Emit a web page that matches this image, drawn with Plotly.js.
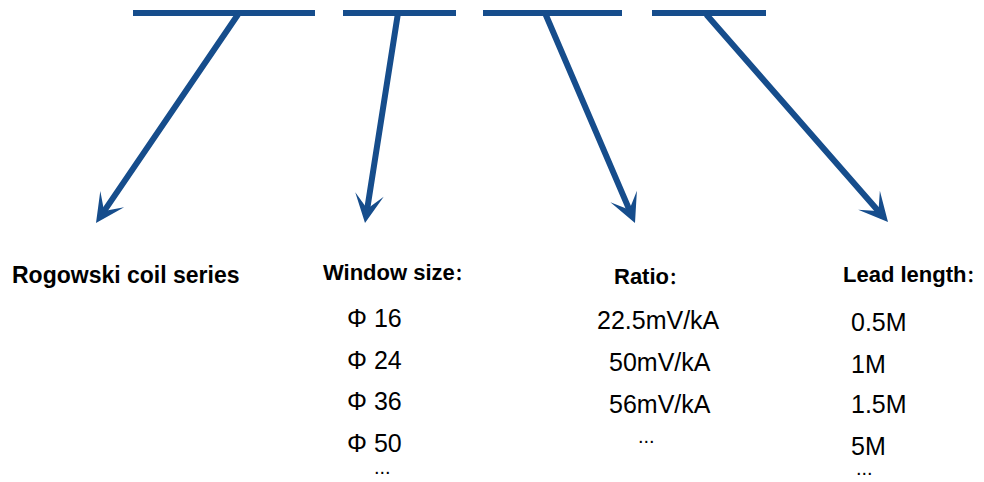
<!DOCTYPE html>
<html>
<head>
<meta charset="utf-8">
<script src="https://cdn.plot.ly/plotly-3.0.1.min.js"></script>
<style>html,body{margin:0;padding:0;background:#fff;}#chart{width:984px;height:482px;}</style>
</head>
<body>
<div id="chart"></div>
<script>
// ---- content ----
const headings = ["Rogowski coil series", "Window size：", "Ratio：", "Lead length："];
const windowSizes = ["Φ 16", "Φ 24", "Φ 36", "Φ 50", "..."];
const ratios = ["22.5mV/kA", "50mV/kA", "56mV/kA", "..."];
const leadLengths = ["0.5M", "1M", "1.5M", "5M", "..."];
const optionLists = [[], windowSizes, ratios, leadLengths];

// ---- layout geometry (pixel space) ----
const COLOR = "#164d8c";
const barY = 13;
const bars = [[133, 315], [343, 456], [483, 622], [652, 766]];
const arrowTail = [239, 398, 545, 705];
const arrowTip = [[96, 223], [365, 223], [635, 223], [888, 222]];
const headPos = [[10, 275], [321, 272], [612, 276], [841, 274]];
const headSize = [23, 22, 22, 22];
const optPos = [
  [],
  [[345, 318], [345, 360], [345, 401], [345, 443], [372, 467]],
  [[595, 320], [607, 362], [607, 404], [636, 436]],
  [[849, 322], [849, 364], [849, 404], [849, 446], [854, 468]]
];

// full-width colon drawn with the SC CJK face (left-set punctuation)
function fmtHeading(h) {
  return "<b>" + h.replace(/：/g, '<span style="font-family:\'Noto Sans CJK SC\';font-size:17px">：</span>') + "</b>";
}

const shapes = bars.map(b => ({
  type: "line", xref: "x", yref: "y",
  x0: b[0], x1: b[1], y0: barY, y1: barY,
  line: {color: COLOR, width: 6}
}));

const annotations = [];
arrowTail.forEach((tx, i) => {
  annotations.push({
    x: arrowTip[i][0], y: arrowTip[i][1], xref: "x", yref: "y",
    ax: tx, ay: barY, axref: "x", ayref: "y",
    text: "", showarrow: true, arrowhead: 3, arrowsize: 0.8,
    arrowwidth: 6, arrowcolor: COLOR, standoff: 0, startstandoff: 0
  });
});
headings.forEach((h, i) => {
  annotations.push({
    x: headPos[i][0], y: headPos[i][1], xref: "x", yref: "y",
    text: fmtHeading(h), showarrow: false, xanchor: "left", yanchor: "middle",
    font: {family: "Liberation Sans, Arial, sans-serif", size: headSize[i], color: "#000"}
  });
});
optionLists.forEach((list, i) => {
  list.forEach((t, j) => {
    const isDots = t === "...";
    annotations.push({
      x: optPos[i][j][0], y: optPos[i][j][1], xref: "x", yref: "y",
      text: t, showarrow: false, xanchor: "left", yanchor: "middle",
      font: {family: "Liberation Sans, Arial, sans-serif", size: isDots ? 20 : 25, color: "#000"}
    });
  });
});

const layout = {
  width: 984, height: 482,
  margin: {l: 0, r: 0, t: 0, b: 0},
  paper_bgcolor: "#fff", plot_bgcolor: "#fff",
  xaxis: {range: [0, 984], visible: false, fixedrange: true},
  yaxis: {range: [482, 0], visible: false, fixedrange: true},
  showlegend: false,
  shapes: shapes,
  annotations: annotations
};

Plotly.newPlot("chart", [{x: [], y: [], type: "scatter", mode: "markers", hoverinfo: "skip"}], layout, {staticPlot: true, displayModeBar: false});
</script>
</body>
</html>
